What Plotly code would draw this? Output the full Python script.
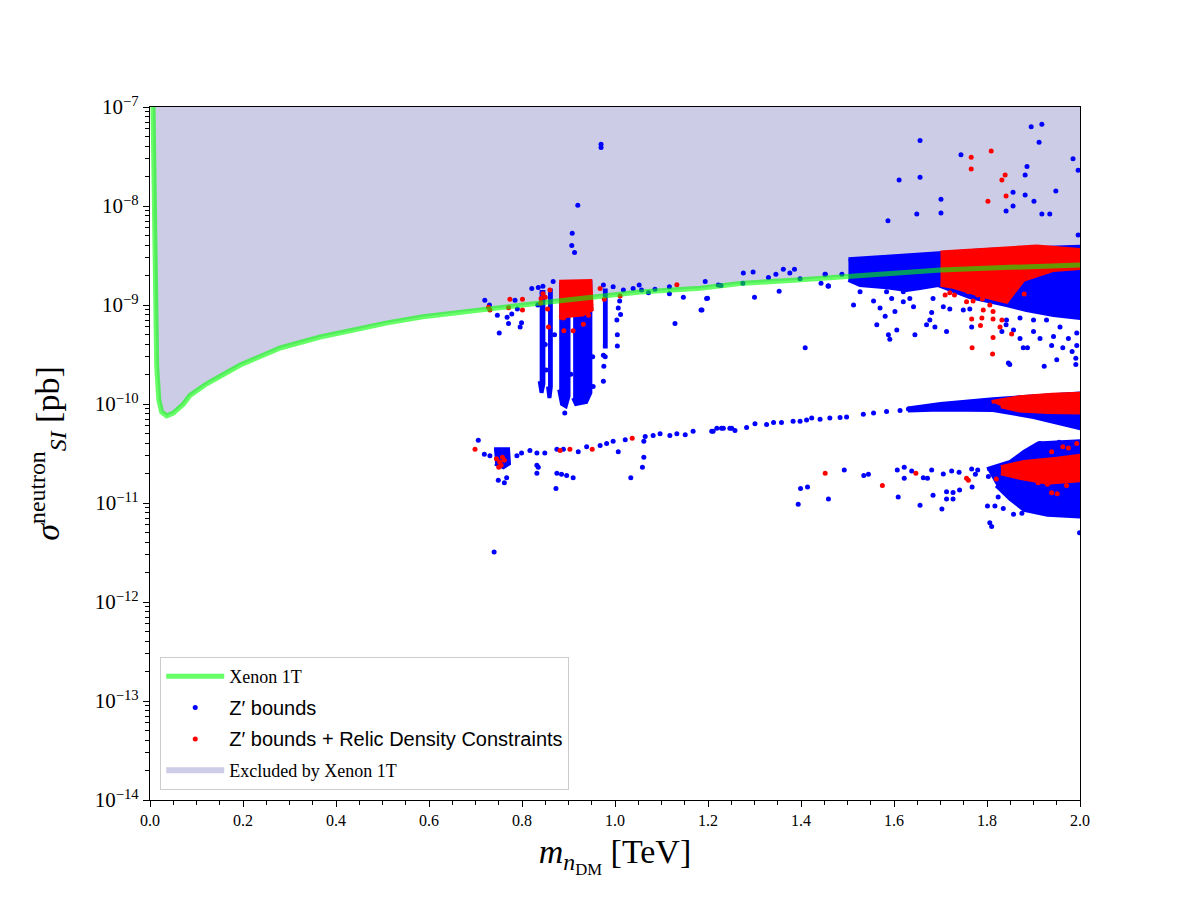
import plotly.graph_objects as go

# Xenon 1T limit (m in TeV, sigma in pb)
xenon_mass = [0.0065, 0.0086, 0.0108, 0.0144, 0.019, 0.025, 0.036, 0.05, 0.072, 0.086,
              0.122, 0.15, 0.194, 0.28, 0.366, 0.43, 0.51, 0.587, 0.667, 0.75,
              0.839, 0.95, 1.054, 1.183, 1.269, 1.4, 1.5, 1.6, 1.7, 1.85, 2.0]
xenon_sigma = [1e-7, 1e-8, 1.12e-9, 2.4e-10, 1.1e-10, 8.3e-11, 7.6e-11, 8.1e-11, 1.0e-10, 1.22e-10,
               1.6e-10, 1.89e-10, 2.48e-10, 3.68e-10, 4.75e-10, 5.5e-10, 6.6e-10, 7.6e-10, 8.5e-10, 9.3e-10,
               1.05e-9, 1.2e-9, 1.35e-9, 1.48e-9, 1.65e-9, 1.8e-9, 1.96e-9, 2.1e-9, 2.26e-9, 2.4e-9, 2.54e-9]
sigma_top = 1e-7

# y axis decades and their labels
y_decades = [1e-14, 1e-13, 1e-12, 1e-11, 1e-10, 1e-9, 1e-8, 1e-7]
y_labels = ["10<sup>−14</sup>", "10<sup>−13</sup>", "10<sup>−12</sup>", "10<sup>−11</sup>",
            "10<sup>−10</sup>", "10<sup>−9</sup>", "10<sup>−8</sup>", "10<sup>−7</sup>"]

# Z' bounds: isolated points (mass, sigma)
zp_upper_pts = [
    (1.656, 4.6e-8), (1.611, 1.83e-8), (1.656, 1.95e-8), (1.701, 1.17e-8), (1.701, 8.5e-9),
    (1.649, 8.3e-9), (1.587, 7.1e-9), (1.744, 3.3e-8), (1.895, 6.3e-8), (1.918, 6.7e-8),
    (1.912, 4.4e-8), (1.985, 3.0e-8), (1.996, 2.3e-8), (1.886, 2.5e-8), (1.882, 2.06e-8),
    (1.856, 1.38e-8), (1.882, 1.29e-8), (1.901, 1.12e-8), (1.948, 1.42e-8), (1.856, 1.0e-8),
    (1.841, 8.9e-9), (1.918, 8.3e-9), (1.935, 8.3e-9), (1.996, 5.1e-9),
    (0.970, 4.2e-8), (0.970, 3.9e-8), (0.920, 1.02e-8), (0.908, 5.3e-9), (0.907, 4.0e-9),
    (0.913, 3.4e-9),
]
zp_band_pts = [
    (0.72, 1.12e-9), (0.730, 1.0e-9), (0.747, 7.9e-10), (0.751, 5.2e-10), (0.768, 7.5e-10),
    (0.771, 6.5e-10), (0.778, 8.1e-10), (0.796, 6.0e-10), (0.799, 6.6e-10), (0.790, 9.1e-10),
    (0.785, 1.12e-9), (0.821, 1.47e-9), (0.867, 1.73e-9), (0.918, 1.66e-9), (0.975, 1.59e-9),
    (0.996, 1.53e-9), (1.018, 1.42e-9), (1.039, 1.47e-9), (1.052, 1.59e-9), (1.057, 1.42e-9),
    (1.072, 1.33e-9), (1.086, 1.44e-9), (1.117, 1.53e-9), (1.117, 1.30e-9), (1.129, 6.5e-10),
    (1.147, 1.2e-9), (1.185, 8.9e-10), (1.194, 1.73e-9), (1.197, 1.16e-9), (1.222, 1.59e-9),
    (1.228, 1.57e-9), (1.276, 2.1e-9), (1.297, 2.15e-9), (1.275, 1.66e-9), (1.330, 1.9e-9),
    (1.346, 2.05e-9), (1.362, 2.3e-9), (1.376, 2.1e-9), (1.386, 2.3e-9), (1.398, 1.84e-9),
    (1.443, 1.66e-9), (1.452, 2.05e-9), (1.458, 1.56e-9), (1.488, 2.05e-9), (1.199, 1.17e-9),
    (1.187, 8.9e-10), (1.300, 1.2e-9), (1.353, 1.38e-9), (1.409, 3.7e-10), (1.459, 1.56e-9),
    (0.975, 1.7e-10), (0.975, 3.1e-10), (0.979, 3.0e-10), (0.976, 2.4e-10), (1.005, 5.0e-10),
    (1.005, 3.85e-10), (1.004, 7.05e-10), (1.007, 9.3e-10), (1.010, 1.1e-9), (1.012, 8.0e-10),
    (0.892, 8.1e-11), (0.835, 1.5e-9), (0.845, 1.55e-9), (0.834, 1.0e-9), (0.850, 4.0e-10),
    (0.852, 2.2e-10), (0.870, 5.0e-10), (0.905, 2.0e-10), (0.952, 3.0e-10), (0.953, 1.5e-10),
    (1.513, 1.0e-9), (1.556, 1.1e-9), (1.570, 9.3e-10), (1.581, 7.7e-10), (1.563, 6.3e-10),
    (1.588, 5.0e-10), (1.591, 4.5e-10), (1.606, 5.6e-10), (1.602, 8.6e-10), (1.642, 9.6e-10),
    (1.645, 5.0e-10), (1.677, 7.05e-10), (1.681, 8.4e-10), (1.670, 6.3e-10), (1.688, 6.0e-10),
    (1.713, 5.4e-10), (1.706, 9.6e-10), (1.720, 9.1e-10), (1.749, 8.9e-10), (1.763, 9.1e-10),
    (1.767, 6.0e-10), (1.846, 2.6e-10), (1.878, 3.7e-10), (1.887, 3.7e-10), (1.923, 2.4e-10),
    (1.950, 2.8e-10), (1.939, 3.9e-10), (1.963, 3.7e-10), (1.975, 4.6e-10), (1.983, 3.4e-10),
    (1.991, 2.9e-10), (1.991, 2.5e-10), (1.914, 4.6e-10), (1.900, 5.4e-10), (1.943, 4.8e-10),
    (1.871, 4.6e-10), (1.857, 5.6e-10), (1.832, 5.4e-10), (1.841, 6.3e-10), (1.842, 7.05e-10),
    (1.871, 7.4e-10), (1.900, 7.05e-10), (1.928, 7.05e-10), (1.957, 6.0e-10), (1.993, 5.2e-10),
    (1.993, 3.9e-10), (1.849, 2.5e-10), (1.527, 1.36e-9), (1.584, 1.36e-9), (1.620, 1.36e-9),
    (1.634, 1.16e-9), (1.684, 1.16e-9), (1.620, 1.08e-9), (1.595, 1.16e-9), (1.452, 2.05e-9),
    (1.459, 1.56e-9),
]
zp_mid_pts = [
    (0.706, 4.3e-11), (0.719, 3.1e-11), (0.731, 3.0e-11), (0.749, 1.7e-11), (0.762, 1.6e-11),
    (0.767, 1.8e-11), (0.789, 3.0e-11), (0.799, 3.2e-11), (0.817, 3.4e-11), (0.832, 3.2e-11),
    (0.849, 3.2e-11), (0.832, 2.4e-11), (0.835, 2.3e-11), (0.832, 2.0e-11), (0.875, 3.5e-11),
    (0.889, 3.5e-11), (0.921, 3.3e-11), (0.939, 3.7e-11), (0.968, 3.8e-11), (0.982, 4.0e-11),
    (0.996, 4.2e-11), (1.007, 3.3e-11), (1.022, 4.35e-11), (1.062, 4.2e-11), (1.065, 4.7e-11),
    (1.082, 4.8e-11), (1.097, 5.0e-11), (1.118, 4.8e-11), (1.133, 5.0e-11), (1.151, 4.9e-11),
    (1.168, 5.3e-11), (1.211, 5.3e-11), (1.229, 5.7e-11), (1.247, 5.7e-11), (1.062, 2.9e-11),
    (1.059, 2.3e-11), (1.034, 1.8e-11), (0.875, 2.0e-11), (0.885, 1.95e-11), (0.896, 1.9e-11),
    (0.910, 1.8e-11), (0.873, 1.4e-11), (0.740, 3.2e-12),
    (1.208, 5.3e-11), (1.219, 5.7e-11), (1.233, 5.7e-11), (1.251, 5.7e-11), (1.258, 5.4e-11),
    (1.283, 5.8e-11), (1.301, 6.3e-11), (1.326, 6.2e-11), (1.341, 6.5e-11), (1.358, 6.5e-11),
    (1.383, 6.7e-11), (1.398, 6.7e-11), (1.412, 6.9e-11), (1.423, 7.2e-11), (1.441, 7.0e-11),
    (1.462, 7.2e-11), (1.484, 7.3e-11), (1.498, 7.4e-11), (1.534, 7.9e-11), (1.556, 8.1e-11),
    (1.584, 8.4e-11), (1.613, 8.6e-11), (1.631, 8.9e-11),
]
zp_low_pts = [
    (1.399, 1.4e-11), (1.414, 1.45e-11), (1.394, 9.7e-12), (1.459, 1.1e-11), (1.493, 2.16e-11),
    (1.535, 1.9e-11), (1.545, 1.95e-11), (1.607, 2.16e-11), (1.622, 2.3e-11), (1.622, 1.78e-11),
    (1.638, 2.1e-11), (1.663, 1.8e-11), (1.672, 1.78e-11), (1.681, 2.16e-11), (1.609, 1.15e-11),
    (1.656, 9.5e-12), (1.684, 1.2e-11), (1.703, 8.7e-12), (1.713, 1.3e-11), (1.727, 1.28e-11),
    (1.741, 1.35e-11), (1.713, 1.1e-11), (1.727, 1.1e-11), (1.706, 1.96e-11), (1.724, 2.1e-11),
    (1.740, 2.05e-11), (1.767, 2.2e-11), (1.780, 2.15e-11), (1.803, 1.85e-11), (1.768, 1.45e-11),
    (1.775, 1.95e-11), (1.801, 9.3e-12), (1.817, 9.3e-12), (1.824, 1.15e-11), (1.835, 8.8e-12),
    (1.806, 6.3e-12), (1.810, 5.8e-12), (1.857, 7.7e-12), (1.875, 7.9e-12), (1.914, 4.0e-11),
    (1.935, 4.0e-11), (1.955, 4.1e-11), (1.999, 5.0e-12), (1.826, 1.58e-11), (1.846, 2.5e-11),
]

# Z' bounds: outlines of the densely packed clouds
zp_cloud_upper = ([1.502, 1.60, 1.699, 1.80, 1.90, 2.0, 2.0, 1.943, 1.885, 1.842, 1.763,
                   1.695, 1.656, 1.627, 1.584, 1.527, 1.502],
                  [2.89e-9, 3.1e-9, 3.37e-9, 3.6e-9, 3.75e-9, 3.88e-9, 7.4e-10, 7.9e-10, 8.9e-10,
                   1.0e-9, 1.2e-9, 1.59e-9, 1.48e-9, 1.42e-9, 1.51e-9, 1.59e-9, 1.79e-9])
zp_cloud_mid = ([1.63, 1.70, 1.813, 1.90, 2.0, 2.0, 1.95, 1.90, 1.813, 1.70, 1.63],
                [9.0e-11, 1.0e-10, 1.12e-10, 1.2e-10, 1.28e-10, 5.7e-11, 6.5e-11, 7.4e-11, 8.7e-11, 8.8e-11, 8.6e-11])
zp_cloud_low = ([1.80, 1.85, 1.88, 1.91, 2.0, 2.0, 1.93, 1.88, 1.85, 1.82],
                [2.2e-11, 2.6e-11, 3.3e-11, 4.0e-11, 4.2e-11, 7.3e-12, 7.6e-12, 8.5e-12, 1.1e-11, 1.5e-11])
zp_cloud_knot = ([0.740, 0.770, 0.772, 0.76, 0.742],
                 [3.5e-11, 3.5e-11, 2.5e-11, 2.3e-11, 2.5e-11])
zp_stalk_a = ([0.838, 0.846, 0.846, 0.842, 0.838],
              [1.35e-9, 1.35e-9, 1.6e-10, 1.3e-10, 1.7e-10])
zp_stalk_b = ([0.856, 0.862, 0.862, 0.859, 0.856],
              [1.4e-9, 1.4e-9, 1.5e-10, 1.15e-10, 1.5e-10])
zp_stalk_c = ([0.880, 0.900, 0.900, 0.894, 0.886, 0.880],
              [1.6e-9, 1.6e-9, 1.2e-10, 9.5e-11, 1.0e-10, 1.4e-10])
zp_stalk_d = ([0.910, 0.947, 0.947, 0.938, 0.916, 0.910],
              [1.7e-9, 1.7e-9, 1.3e-10, 1.05e-10, 1.0e-10, 1.15e-10])
zp_stalk_e = ([0.974, 0.980, 0.980, 0.974],
              [1.4e-9, 1.4e-9, 3.8e-10, 3.8e-10])

# Z' bounds + relic density: isolated points
relic_pts = [
    (1.766, 3.1e-8), (1.809, 3.6e-8), (1.766, 2.36e-8), (1.839, 2.06e-8), (1.832, 1.83e-8),
    (1.841, 1.26e-8), (1.802, 1.12e-8),
    (1.71, 1.26e-9), (1.72, 1.33e-9), (1.73, 1.26e-9), (1.760, 1.36e-9), (1.756, 1.08e-9),
    (1.77, 1.1e-9), (1.78, 1.26e-9), (1.79, 1.15e-9), (1.806, 1.0e-9), (1.813, 8.6e-10),
    (1.792, 8.9e-10), (1.767, 7.2e-10), (1.789, 7.4e-10), (1.813, 7.2e-10), (1.832, 7.05e-10),
    (1.828, 6.0e-10), (1.786, 6.2e-10), (1.813, 4.7e-10), (1.853, 5.1e-10), (1.768, 3.7e-10),
    (1.812, 3.2e-10), (1.880, 1.29e-9), (1.869, 1.7e-9),
    (0.857, 6.0e-10), (0.890, 5.5e-10), (0.910, 5.5e-10), (0.932, 6.4e-10), (0.928, 8.6e-10),
    (0.889, 7.4e-10), (0.943, 7.9e-10), (0.968, 1.47e-9), (0.977, 1.14e-9), (1.011, 1.23e-9),
    (0.774, 1.14e-9), (0.801, 1.14e-9), (0.801, 8.9e-10), (0.771, 9.4e-10), (0.731, 8.9e-10),
    (0.728, 9.5e-10), (0.841, 1.16e-9), (0.840, 1.05e-9), (0.860, 1.42e-9), (1.133, 1.6e-9),
    (0.855, 9.1e-10), (0.845, 1.3e-9), (0.850, 1.2e-9),
    (0.699, 3.5e-11), (0.882, 3.4e-11), (0.903, 3.5e-11), (0.951, 3.5e-11), (1.037, 4.5e-11),
    (0.745, 2.8e-11), (0.752, 2.6e-11), (0.758, 2.9e-11), (0.755, 2.4e-11), (0.762, 2.7e-11),
    (0.750, 2.3e-11),
    (1.452, 2.0e-11), (1.575, 1.5e-11), (1.647, 2.0e-11), (1.756, 1.78e-11), (1.760, 1.7e-11),
    (1.82, 1.75e-11), (1.939, 3.3e-11), (1.963, 3.7e-11), (1.975, 3.6e-11), (1.993, 4.0e-11),
    (1.939, 1.27e-11), (1.951, 1.24e-11), (1.910, 1.6e-11), (1.93, 1.55e-11), (1.971, 1.5e-11),
]

# Z' bounds + relic density: outlines of the dense clouds
relic_cloud_upper = ([1.70, 1.80, 1.907, 2.0, 2.0, 1.943, 1.878, 1.842, 1.799, 1.727, 1.70],
                     [3.4e-9, 3.6e-9, 3.9e-9, 3.6e-9, 2.37e-9, 2.26e-9, 1.79e-9, 1.08e-9, 1.21e-9, 1.53e-9, 1.6e-9])
relic_cloud_mid = ([1.81, 1.87, 1.94, 2.0, 2.0, 1.93, 1.87, 1.83],
                   [1.05e-10, 1.17e-10, 1.24e-10, 1.27e-10, 8.2e-11, 8.3e-11, 8.6e-11, 9.5e-11])
relic_cloud_low = ([1.83, 1.88, 1.95, 2.0, 2.0, 1.93, 1.87, 1.83],
                   [2.3e-11, 2.6e-11, 2.8e-11, 3.0e-11, 1.7e-11, 1.6e-11, 1.8e-11, 2.0e-11])
relic_cloud_stalk = ([0.880, 0.947, 0.950, 0.93, 0.90, 0.880],
                     [1.72e-9, 1.75e-9, 9.0e-10, 8.0e-10, 7.8e-10, 7.4e-10])

BLUE = "#0000ff"
RED = "#ff0000"
SERIF = "Liberation Serif"
SANS_SPAN = '<span style="font-family:Liberation Sans;font-size:20px">{}</span>'

fig = go.Figure()

# excluded region above the Xenon 1T curve
fig.add_trace(go.Scatter(
    x=xenon_mass + [xenon_mass[-1], xenon_mass[0]],
    y=xenon_sigma + [sigma_top, sigma_top],
    fill="toself", fillcolor="rgba(0,0,128,0.2)", mode="none",
    name="Excluded by Xenon 1T", legendrank=4, legendgroup="d"))


def add_cloud(outline, color):
    fig.add_trace(go.Scatter(
        x=outline[0], y=outline[1], mode="lines", fill="toself",
        fillcolor=color, line=dict(color=color, width=4),
        showlegend=False, hoverinfo="skip"))


for cloud in [zp_cloud_upper, zp_cloud_mid, zp_cloud_low, zp_cloud_knot,
              zp_stalk_a, zp_stalk_b, zp_stalk_c, zp_stalk_d, zp_stalk_e]:
    add_cloud(cloud, BLUE)

zp_pts = zp_upper_pts + zp_band_pts + zp_mid_pts + zp_low_pts
fig.add_trace(go.Scatter(
    x=[p[0] for p in zp_pts], y=[p[1] for p in zp_pts],
    mode="markers", marker=dict(color=BLUE, size=5),
    name=SANS_SPAN.format("Z′ bounds"), legendrank=2, legendgroup="b"))

for cloud in [relic_cloud_upper, relic_cloud_mid, relic_cloud_low, relic_cloud_stalk]:
    add_cloud(cloud, RED)

fig.add_trace(go.Scatter(
    x=[p[0] for p in relic_pts], y=[p[1] for p in relic_pts],
    mode="markers", marker=dict(color=RED, size=5),
    name=SANS_SPAN.format("Z′ bounds + Relic Density Constraints"),
    legendrank=3, legendgroup="c"))

fig.add_trace(go.Scatter(
    x=xenon_mass, y=xenon_sigma, mode="lines",
    line=dict(color="rgba(0,255,0,0.6)", width=5),
    name="Xenon 1T", legendrank=1, legendgroup="a"))

axis_style = dict(showline=True, linecolor="black", linewidth=1.2, mirror=True,
                  ticks="outside", ticklen=6, tickwidth=1, tickcolor="black",
                  showgrid=False, zeroline=False)

y_minor = [m * 10.0 ** e for e in range(-14, -7) for m in range(2, 10)]

fig.update_xaxes(range=[0, 2], dtick=0.2, tickformat=".1f",
                 tickfont=dict(family=SERIF, size=16, color="black"),
                 minor=dict(ticks="outside", ticklen=3.5, dtick=0.05, tickcolor="black"),
                 title=dict(text="<i>m</i><sub><i>n</i><sub>DM</sub></sub> [TeV]",
                            font=dict(family=SERIF, size=34), standoff=10),
                 **axis_style)
fig.update_yaxes(type="log", range=[-14, -7], tickmode="array",
                 tickvals=y_decades, ticktext=y_labels,
                 tickfont=dict(family=SERIF, size=21, color="black"),
                 minor=dict(ticks="outside", ticklen=3.5, tickmode="array",
                            tickvals=y_minor, tickcolor="black"),
                 title=dict(text="<i>σ</i><sup>neutron</sup><sub><i>SI</i></sub> [pb]",
                            font=dict(family=SERIF, size=34), standoff=24),
                 **axis_style)

# page body adds an 8 px offset, so margins are shifted to land the axes where the reference has them
fig.update_layout(
    width=1200, height=900,
    margin=dict(l=142, r=128, t=99, b=108),
    plot_bgcolor="white", paper_bgcolor="white",
    font=dict(family=SERIF, color="black"),
    legend=dict(x=0.011, y=0.0145, xanchor="left", yanchor="bottom",
                bordercolor="#cccccc", borderwidth=1, bgcolor="rgba(255,255,255,0.85)",
                font=dict(family=SERIF, size=18), itemwidth=58, tracegroupgap=5),
)

fig.write_html("out.html")
